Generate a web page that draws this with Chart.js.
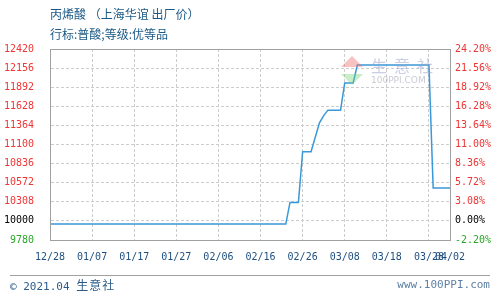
<!DOCTYPE html>
<html>
<head>
<meta charset="UTF-8" />
<script src="https://cdn.jsdelivr.net/npm/chart.js"></script>
<style>
  body { margin: 0; background: #fff; }
  #wrap { position: relative; width: 500px; height: 300px; overflow: hidden; }
  canvas { position: absolute; left: 0; top: 0; }
  .t { position: absolute; white-space: pre; font-family: "Noto Sans CJK SC", sans-serif; }
  #title { left: 50px; top: 6px; font-size: 12px; line-height: 16px; color: #1b5a87; }
  #sub { left: 50px; top: 26px; font-size: 12px; line-height: 16px; color: #1b5a87; }
  #rule { position: absolute; left: 10px; top: 275px; width: 480px; height: 1px; background: #a0a0a0; }
  #copy { left: 10px; top: 278px; font-size: 11px; line-height: 14px; color: #2b5b8b; }
  #copy .n { font-family: "DejaVu Sans Mono", monospace; }
  #copy .c { font-size: 12px; letter-spacing: 1px; }
  #site { right: 10px; top: 278px; font-size: 11px; line-height: 14px; color: #5f81a3; font-family: "DejaVu Sans Mono", monospace; }
  #wm1 { left: 371px; top: 55px; font-size: 16px; line-height: 20px; letter-spacing: 7px; color: rgba(150,160,205,0.5); }
  #wm2 { left: 371px; top: 75px; font-size: 9px; line-height: 11px; color: rgba(150,150,170,0.5); font-family: "DejaVu Sans", sans-serif; }
  .tri-up { position: absolute; left: 341px; top: 56px; width: 0; height: 0;
    border-left: 11px solid transparent; border-right: 11px solid transparent; border-bottom: 11px solid rgba(240,120,120,0.45); }
  .tri-dn { position: absolute; left: 341px; top: 74px; width: 0; height: 0;
    border-left: 11px solid transparent; border-right: 11px solid transparent; border-top: 11px solid rgba(120,210,120,0.4); }
</style>
</head>
<body>
<div id="wrap">
  <canvas id="chart" width="500" height="300"></canvas>
  <div class="t" id="title">丙烯酸 （上海华谊 出厂价）</div>
  <div class="t" id="sub">行标:普酸;等级:优等品</div>
  <div class="tri-up"></div>
  <div class="tri-dn"></div>
  <div class="t" id="wm1">生意社</div>
  <div class="t" id="wm2">100PPI.COM</div>
  <div id="rule"></div>
  <div class="t" id="copy"><span class="n">© 2021.04 </span><span class="c">生意社</span></div>
  <div class="t" id="site">www.100PPI.com</div>
</div>
<script>
  // days counted from 12/28
  const days = [0, 56, 57, 59, 60, 62, 63, 64, 65, 66, 69, 70, 72, 73, 90, 91, 95];
  const prices = [10000, 10000, 10300, 10300, 11000, 11000, 11200, 11400, 11500, 11575, 11575, 11950, 11950, 12200, 12200, 10500, 10500];

  const xTickDays = [0, 10, 20, 30, 40, 50, 60, 70, 80, 90, 95];
  const xTickLabels = ["12/28", "01/07", "01/17", "01/27", "02/06", "02/16", "02/26", "03/08", "03/18", "03/28", "04/02"];

  const yTickValues = [12420, 12156, 11892, 11628, 11364, 11100, 10836, 10572, 10308, 10044, 9780];
  const yTickLabels = ["12420", "12156", "11892", "11628", "11364", "11100", "10836", "10572", "10308", "10000", "9780"];
  const pctTickLabels = ["24.20%", "21.56%", "18.92%", "16.28%", "13.64%", "11.00%", "8.36%", "5.72%", "3.08%", "0.00%", "-2.20%"];

  const tickColor = (ctx) => {
    if (ctx.index === 9) return "#000000";
    if (ctx.index === 10) return "#2aa52a";
    return "#ee3535";
  };

  const frame = {
    id: "frame",
    afterDraw(chart) {
      const { ctx, chartArea: a } = chart;
      ctx.save();
      ctx.strokeStyle = "#a0a0a0";
      ctx.lineWidth = 1;
      ctx.strokeRect(Math.round(a.left) + 0.5, Math.round(a.top) + 0.5, Math.round(a.right - a.left), Math.round(a.bottom - a.top));
      ctx.restore();
    },
  };

  const gridOpts = { color: "#cccccc", lineWidth: 1, drawTicks: false };
  const borderOpts = { display: true, color: "#a0a0a0", width: 1, dash: [3, 2] };
  const tickFont = { family: "DejaVu Sans Mono", size: 10 };

  new Chart(document.getElementById("chart"), {
    type: "line",
    data: {
      datasets: [{
        data: days.map((d, i) => ({ x: d, y: prices[i] })),
        borderColor: "#3a98d8",
        borderWidth: 1.5,
        pointRadius: 0,
        tension: 0,
        fill: false,
      }],
    },
    options: {
      responsive: false,
      animation: false,
      layout: { padding: { top: 49, left: 0, right: 0, bottom: 0 } },
      plugins: { legend: { display: false }, tooltip: { enabled: false } },
      scales: {
        x: {
          type: "linear",
          min: 0,
          max: 95,
          afterBuildTicks: (s) => { s.ticks = xTickDays.map((v) => ({ value: v })); },
          afterFit: (s) => { s.height = 60; },
          grid: gridOpts,
          border: borderOpts,
          ticks: {
            autoSkip: false,
            maxRotation: 0,
            padding: 11,
            color: "#1f4f7f",
            font: tickFont,
            callback: (v, i) => xTickLabels[i],
          },
        },
        y: {
          position: "left",
          min: 9780,
          max: 12420,
          afterBuildTicks: (s) => { s.ticks = yTickValues.map((v) => ({ value: v })); },
          afterFit: (s) => { s.width = 50; },
          grid: gridOpts,
          border: borderOpts,
          ticks: { padding: 16, color: tickColor, font: tickFont, callback: (v, i) => yTickLabels[i] },
        },
        y2: {
          position: "right",
          min: 9780,
          max: 12420,
          afterBuildTicks: (s) => { s.ticks = yTickValues.map((v) => ({ value: v })); },
          afterFit: (s) => { s.width = 50; },
          grid: { display: false, drawTicks: false },
          border: { display: true, color: "#a0a0a0", width: 1 },
          ticks: { padding: 5, color: tickColor, font: tickFont, callback: (v, i) => pctTickLabels[i] },
        },
      },
    },
    plugins: [frame],
  });
</script>
</body>
</html>
